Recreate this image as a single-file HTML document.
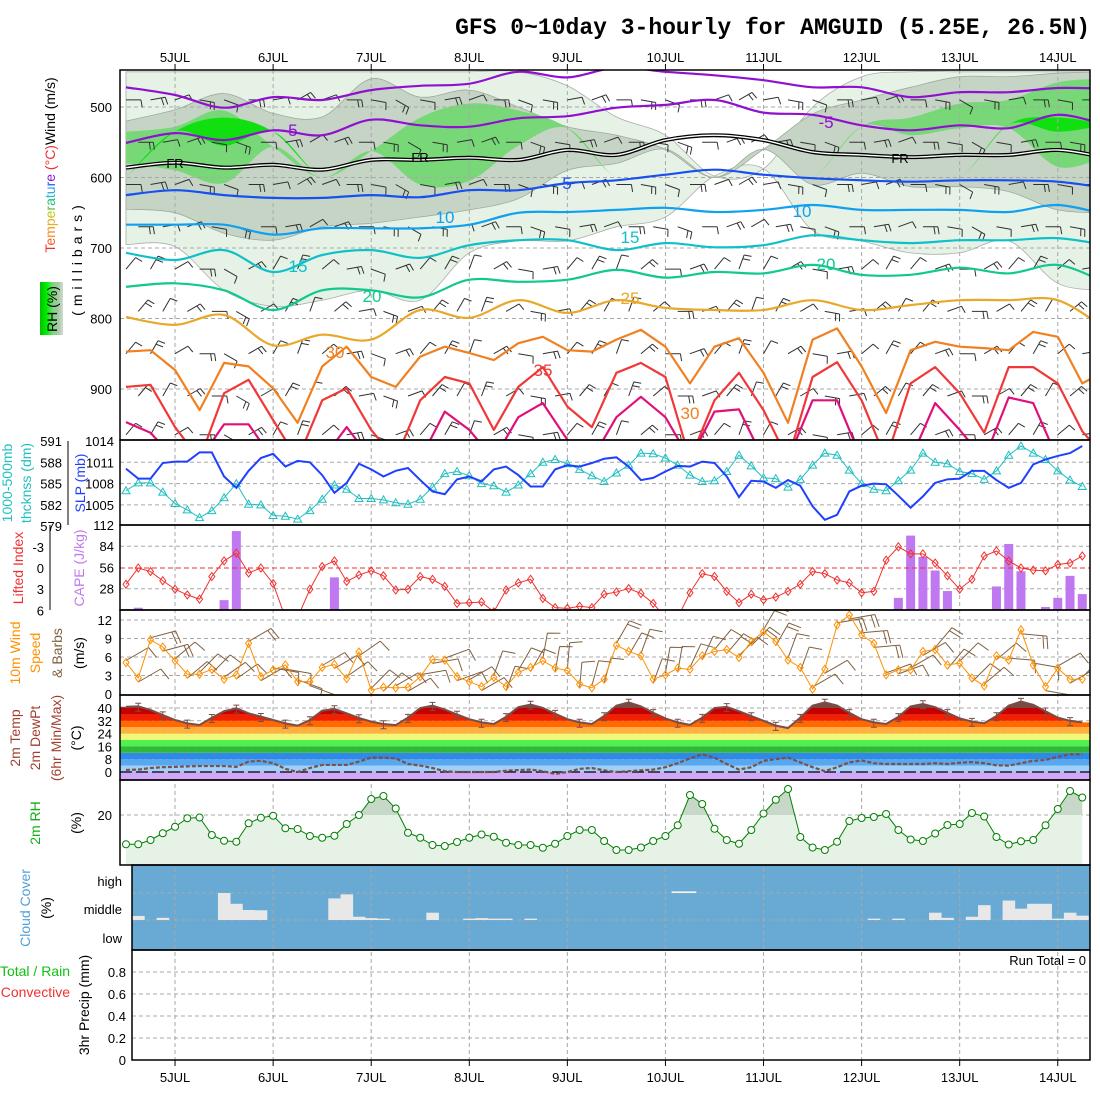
<!DOCTYPE html>
<html><head><meta charset="utf-8"><title>GFS meteogram AMGUID</title>
<style>
html,body{margin:0;padding:0;background:#fff;}
svg{display:block;font-family:"Liberation Sans",sans-serif;}
.tk{font-size:13px;fill:#000;}
.dl{font-size:13px;fill:#000;text-anchor:middle;}
</style></head>
<body>
<svg id="chart" width="1100" height="1100" viewBox="0 0 1100 1100" xmlns="http://www.w3.org/2000/svg">
<defs>
<clipPath id="cTop"><rect x="120" y="70" width="970" height="370"/></clipPath>
<clipPath id="cSlp"><rect x="120" y="440" width="970" height="85"/></clipPath>
<clipPath id="cCape"><rect x="120" y="525" width="970" height="85"/></clipPath>
<clipPath id="cWind"><rect x="120" y="610" width="970" height="85"/></clipPath>
<clipPath id="cTemp"><rect x="120" y="695" width="970" height="85"/></clipPath>
<clipPath id="cRh"><rect x="120" y="780" width="970" height="85"/></clipPath>
<clipPath id="cRhHi"><rect x="120" y="780" width="970" height="35"/></clipPath>
<clipPath id="cCloud"><rect x="132" y="865" width="958" height="85"/></clipPath>
<clipPath id="cTempArea"><polygon id="tempAreaPoly" points="0,0"/></clipPath>
<linearGradient id="rhGrad" x1="0" x2="1" y1="0" y2="0">
<stop offset="0" stop-color="#00c000"/><stop offset="0.3" stop-color="#00f000"/><stop offset="0.55" stop-color="#78d878"/><stop offset="0.8" stop-color="#a8c8a8"/><stop offset="1" stop-color="#d0dcd0"/>
</linearGradient>
</defs>

<text x="1090" y="34" text-anchor="end" style="font-family:'Liberation Mono',monospace;font-weight:bold;font-size:23px;">GFS 0~10day 3-hourly for AMGUID (5.25E, 26.5N)</text>

<g id="bg"></g>
<g id="topLayer" clip-path="url(#cTop)"></g>
<g id="grid"></g>
<g id="topLines" clip-path="url(#cTop)"></g>
<g id="marks"></g>
<g id="frames"></g>
<g id="labels"></g>

<g font-size="14">
<text transform="translate(55,165) rotate(-90)" text-anchor="middle"><tspan fill="#f03030">T</tspan><tspan fill="#f06020">e</tspan><tspan fill="#f09020">m</tspan><tspan fill="#e0b020">p</tspan><tspan fill="#c0c020">e</tspan><tspan fill="#60c040">r</tspan><tspan fill="#20c080">a</tspan><tspan fill="#20c0c0">t</tspan><tspan fill="#20a0f0">u</tspan><tspan fill="#2060f0">r</tspan><tspan fill="#8020d0">e</tspan> <tspan fill="#f03030">(°C)</tspan><tspan fill="#000">Wind (m/s)</tspan></text>
<text transform="translate(82,258) rotate(-90)" text-anchor="middle" letter-spacing="5">(millibars)</text>
<rect x="40" y="282" width="23" height="53" fill="url(#rhGrad)"/>
<text transform="translate(57,309) rotate(-90)" text-anchor="middle">RH (%)</text>
</g>
<g font-size="14">
<text transform="translate(12,483) rotate(-90)" text-anchor="middle" fill="#20c0c0">1000-500mb</text>
<text transform="translate(31,483) rotate(-90)" text-anchor="middle" fill="#20c0c0">thcknss (dm)</text>
<text transform="translate(85,483) rotate(-90)" text-anchor="middle" fill="#2040ff">SLP (mb)</text>
<text transform="translate(23,568) rotate(-90)" text-anchor="middle" fill="#f03030">Lifted Index</text>
<text transform="translate(84,568) rotate(-90)" text-anchor="middle" fill="#c078f0">CAPE (J/kg)</text>
<text transform="translate(20,653) rotate(-90)" text-anchor="middle" fill="#ff9000">10m Wind</text>
<text transform="translate(40,653) rotate(-90)" text-anchor="middle"><tspan fill="#ff9000">Speed</tspan></text>
<text transform="translate(62,653) rotate(-90)" text-anchor="middle" fill="#806040">&amp; Barbs</text>
<text transform="translate(84,653) rotate(-90)" text-anchor="middle">(m/s)</text>
<text transform="translate(20,738) rotate(-90)" text-anchor="middle" fill="#a04030">2m Temp</text>
<text transform="translate(40,738) rotate(-90)" text-anchor="middle" fill="#a04030">2m DewPt</text>
<text transform="translate(61,738) rotate(-90)" text-anchor="middle" fill="#a04030">(6hr Min/Max)</text>
<text transform="translate(81,738) rotate(-90)" text-anchor="middle">(°C)</text>
<text transform="translate(40,823) rotate(-90)" text-anchor="middle" fill="#10b010">2m RH</text>
<text transform="translate(81,823) rotate(-90)" text-anchor="middle">(%)</text>
<text transform="translate(30,908) rotate(-90)" text-anchor="middle" fill="#50a0d8">Cloud Cover</text>
<text transform="translate(51,908) rotate(-90)" text-anchor="middle">(%)</text>
<text x="70" y="976" text-anchor="end" fill="#10c010">Total / Rain</text>
<text x="70" y="997" text-anchor="end" fill="#f03030">Convective</text>
<text transform="translate(89,1005) rotate(-90)" text-anchor="middle">3hr Precip (mm)</text>
<text x="1086" y="965" text-anchor="end" font-size="13">Run Total = 0</text>
</g>
</svg>

<script>
// ---------- DATA ----------
const dayLabels = ["5JUL","6JUL","7JUL","8JUL","9JUL","10JUL","11JUL","12JUL","13JUL","14JUL"];
const slp = [1010.1,1008.7,1008.7,1010.9,1011.1,1011.1,1012.4,1012.4,1009.0,1007.4,1009.8,1011.6,1012.2,1010.4,1011.2,1011.0,1009.2,1006.7,1008.1,1010.8,1010.0,1009.0,1009.8,1010.2,1008.5,1006.9,1006.5,1008.6,1009.0,1008.3,1010.0,1010.4,1009.2,1007.6,1007.6,1010.0,1010.6,1010.4,1010.9,1011.5,1011.7,1010.4,1008.5,1008.8,1009.7,1010.5,1010.4,1011.1,1010.9,1009.0,1006.1,1008.4,1008.3,1007.4,1008.5,1007.7,1004.8,1002.9,1003.6,1006.9,1007.7,1008.0,1007.9,1006.3,1004.6,1006.2,1008.1,1008.6,1008.7,1009.8,1009.8,1008.5,1007.4,1008.1,1010.7,1011.4,1011.9,1012.3,1013.3];
const thickness = [584.0,585.1,585.1,583.8,582.2,581.3,580.2,581.2,583.0,585.0,582.1,582.0,580.5,580.4,580.0,581.2,582.8,584.8,584.2,582.9,582.9,582.7,582.3,582.1,582.8,584.5,586.4,586.7,586.1,585.0,584.7,583.8,584.8,586.4,588.0,588.4,587.8,587.0,586.1,585.3,586.5,587.6,589.3,589.2,588.6,587.6,586.2,585.3,585.4,586.7,589.0,587.5,585.8,585.7,584.5,585.6,587.6,589.3,589.0,586.9,585.0,584.2,584.0,585.4,586.9,589.3,588.0,587.8,586.7,586.4,585.6,586.8,589.0,590.3,589.3,588.4,586.8,585.5,584.6];
const liftedIndex = [2.3,0,0.5,1.8,3,3.8,4.4,1.2,-1,-2.1,0.7,0,2.2,7,7,3,-0.2,-1,1.9,1,0.4,1.1,3.1,3.0,1.2,1.6,2.6,5,4.9,4.8,6.2,3.1,2.1,1.6,4.3,5.6,5.7,5.4,5.6,3.7,3.4,2.9,3.6,5,7,7,3.5,0.8,1.2,3.3,4.9,3.7,4.5,4.1,3.3,2.3,0.5,0.8,1.7,2.1,3.5,3.3,-1.1,-3,-2,-2,-0.7,1.1,3,1.6,-1.7,-2.4,-1,0,0.3,0.4,-0.5,-0.7,-1.7];
const cape = [1,3,0,0,0,0,0,0,13,104,1,0,0,0,0,0,0,43,0,0,0,0,0,0,0,0,0,0,0,0,0,0,0,0,0,0,0,0,0,0,0,0,0,0,0,0,0,0,0,0,0,0,0,0,0,0,0,0,0,0,0,0,0,16,98,70,52,25,0,0,0,31,87,51,0,4,16,45,21];
const windSpeed = [5.1,2.6,8.8,7.6,5.4,3.2,3.2,4,2.4,3.1,8.2,2.8,3.9,4.7,2,2,4.3,4.8,2.5,6.8,0.6,1.1,1,1.1,2.8,5.6,5.5,2.8,2,1.2,2.7,1.2,3.5,4.3,5.4,4.2,3.8,1.6,1,2.4,7.9,6.9,6.2,2.4,3.1,4.2,4,6.2,6.9,7.2,5.9,8.5,10.1,8.5,5.5,4.3,0.8,4,11.2,12.8,9.6,8.2,3.1,3.9,3.9,6.9,7.2,4.7,5,2.6,1.3,6.2,5.5,10.4,4.7,1.2,4.2,2.4,2.4];
const temp2m = [40.8,41,38.8,35.6,32.5,30.4,29.4,33.9,38,39.8,36.7,34.6,32.5,30.4,29,32.5,38.3,39.4,36.7,33.8,31.5,30,29.3,34,40,41.5,39,36,33,31,30,34.5,40.5,42.2,40,36.5,33,31,30,35,41.5,43.5,41,37,33.5,31,29.5,34,40,40.7,38,35,32,29,27.5,34,41.5,43.5,41.5,37,33,31,30,34.5,41,42.5,40.5,37,33.5,31.5,30.5,35,41.5,44,42,38,34,32,31];
const dewPoint = [1.3,1.5,2.5,3,3.2,3.5,3.7,3.7,3.7,3.2,6.5,7,5.5,2,0,2.5,4.4,4.4,4.4,6.5,9,9,8.5,5,4,2.5,0.5,0,0,0,0,0.8,1.2,1.5,0.5,-1.2,0,2,2.5,1,0,0.5,1,1.5,3,5.5,8.5,11,9,5,1.5,3,7,8,9,6,3,0.5,3,6,7.2,5.5,5,5,5,5,5.5,5,5.8,6.2,5.5,4.2,4,5.5,7,7.5,9.5,11,11];
const rh2m = [8.3,8.3,10,12.7,15.3,18.7,19,12,9.7,9.3,16.7,18.9,19.7,14.7,14.4,11.6,10.9,11.7,16.4,20,26.4,27.6,22.6,12.9,10.9,8,7.6,9.2,10.9,12.2,11.3,8.9,8,8,6.9,8.5,11.6,14,14,9.6,6,6,7,9.6,11.6,15.9,28,24.4,14.5,10,8.5,14,20.6,26.1,30.4,11.2,7,6,9.3,17.6,18.8,19.2,20.4,14,10.2,9.6,12.6,16,16.4,20.8,19.4,11.2,8.2,9.5,10,15.9,22.4,29.6,27];
const cloudMid = [0,15,0,8,0,0,0,0,100,60,37,36,0,0,0,0,0,80,95,12,7,5,0,0,0,27,0,0,5,7,5,5,0,5,0,0,0,0,0,0,0,0,0,0,0,0,0,0,0,0,0,0,0,0,0,0,0,0,0,0,0,5,0,5,0,0,27,8,0,12,55,0,72,42,60,60,5,27,16];
const cloudHigh = [0,0,0,0,0,0,0,0,0,0,0,0,0,0,0,0,0,0,0,0,0,0,0,0,0,0,0,0,0,0,0,0,0,0,0,0,0,0,0,0,0,0,0,0,0,6,6,0,0,0,0,0,0,0,0,0,0,0,0,0,0,0,0,0,0,0,0,0,0,0,0,0,0,0,0,0,0,0,0];
const precip3h = [];
const sfcWindDir = [60,75,50,45,55,60,100,110,60,55,45,60,80,70,60,20,30,10,5,15,30,20,10,25,40,45,30,20,60,80,85,70,60,40,45,50,95,100,60,45,55];
const isoM10 = [472,483,501,486,490,476,470,467,450,458,444,450,455,462,472,472,486,479,479,473,474];
const isoM5 = [551,537,547,533,540,518,526,528,516,513,501,497,490,508,511,526,533,526,530,511,526];
const iso0 = [586,579,586,582,589,575,575,572,575,561,568,547,540,547,564,568,571,568,568,561,572];
const iso5 = [625,618,625,629,629,625,628,618,618,608,604,596,589,596,601,604,606,604,604,606,615];
const iso10 = [667,667,667,681,672,672,672,667,650,649,646,643,649,646,639,646,646,646,649,639,653];
const iso15 = [707,717,703,734,710,703,714,696,689,689,703,693,699,696,682,689,693,689,689,686,696];
const iso20 = [755,750,760,788,760,760,770,745,748,745,731,742,734,736,724,738,738,728,736,724,750];
const iso25 = [798,809,795,838,823,830,788,799,774,792,774,785,788,788,774,788,781,774,774,774,816];
const iso30 = [847,845,873,930,863,868,899,948,868,840,883,897,854,840,849,859,835,826,845,847,830,816,840,892,840,828,877,948,830,814,868,934,845,833,840,842,845,819,826,892,873];
const iso35 = [897,894,954,1000,906,887,944,1000,916,899,958,1000,916,883,892,958,897,869,925,954,877,863,883,1000,916,877,930,1000,883,862,916,1000,892,869,906,962,869,869,892,960,1000];
const iso40 = [947,962,1000,1000,950,950,1000,1000,1000,954,1000,1000,1000,932,958,1000,940,920,972,1000,940,911,940,1000,932,929,1000,1000,916,916,1000,1000,1000,920,958,1000,912,920,1000,1000,1000];
const rhLightTop = [450,450,450,450,450,450,450,450,450,470,514,540,null,null,500,457,450,450,450,450,450];
const rhLightBot = [695,698,760,783,774,760,774,707,690,690,670,656,null,null,675,690,707,707,690,750,760];
const rhGreyTop = [520,504,481,509,514,460,486,476,500,528,540,null,null,null,510,490,472,457,457,452,450];
const rhGreyBot = [645,650,679,689,670,665,656,646,630,590,580,null,null,null,610,594,613,613,620,646,650];
const rhGreenTop = [535,528,505,null,null,null,515,495,505,null,null,null,null,null,null,null,515,495,490,465,460];
const rhGreenBot = [580,590,608,null,null,null,610,605,555,null,null,null,null,null,null,null,540,530,530,585,570];
const rhBrightTop = [null,null,515,null,null,null,null,null,null,null,null,null,null,null,null,null,null,null,null,515,null];
const rhBrightBot = [null,null,555,null,null,null,null,null,null,null,null,null,null,null,null,null,null,null,null,535,null];
const barbDirUpper = [90,80,70,100,110,90,80,60,70,90,100,120,100,80,70,90,110,100,80,70,90,100,110,90,70,60,80,100,110,90,80,70,90,100,120,100,80,90,100,90,80];
const barbDirLower = [40,30,60,90,120,60,30,20,50,80,110,70,40,30,20,60,100,80,40,30,20,50,90,70,40,20,30,60,100,80,50,30,40,70,90,60,40,30,50,80,60];
const cloudLevelLabels = ["high","middle","low"];

// ---------- HELPERS ----------
const NS = "http://www.w3.org/2000/svg";
const X0 = 126, DX = 12.26;
function xOf(i){ return X0 + i*DX; }
function dayX(d){ return X0 + (4 + 8*d)*DX; }
function yPres(p){ return 107 + (p-500)*0.705; }
function ySlp(v){ return 441 + (1014-v)*7.1; }
function yThk(v){ return 441 + (591-v)*7.1; }
function yCape(v){ return 610 - v*0.759; }
function yLI(v){ return 568 + v*7.08; }
function yWind(v){ return 694 - v*6.17; }
function yTemp(v){ return 772 - v*1.6; }
function yRh(v){ return 865 - v*2.5; }
function yPrecip(v){ return 1060 - v*110; }
function mk(tag, attrs, parent){
  const e = document.createElementNS(NS, tag);
  for (const k in attrs) e.setAttribute(k, attrs[k]);
  parent.appendChild(e);
  return e;
}
function smoothPath(pts){
  if (pts.length < 2) return "";
  let d = "M" + pts[0][0].toFixed(1) + "," + pts[0][1].toFixed(1);
  for (let i=0;i<pts.length-1;i++){
    const p0 = pts[Math.max(0,i-1)], p1 = pts[i], p2 = pts[i+1], p3 = pts[Math.min(pts.length-1,i+2)];
    const c1x = p1[0] + (p2[0]-p0[0])/6, c1y = p1[1] + (p2[1]-p0[1])/6;
    const c2x = p2[0] - (p3[0]-p1[0])/6, c2y = p2[1] - (p3[1]-p1[1])/6;
    d += " C" + c1x.toFixed(1)+","+c1y.toFixed(1)+" "+c2x.toFixed(1)+","+c2y.toFixed(1)+" "+p2[0].toFixed(1)+","+p2[1].toFixed(1);
  }
  return d;
}
function linePts(arr, step, yf){ return arr.map((v,i)=>[xOf(i*step), yf(v)]); }

const gBg = document.getElementById("bg");
const gTop = document.getElementById("topLayer");
const gGrid = document.getElementById("grid");
const gTopLines = document.getElementById("topLines");
const gMarks = document.getElementById("marks");
const gFrames = document.getElementById("frames");
const gLab = document.getElementById("labels");

const cloudBg = mk("rect",{x:132,y:865,width:958,height:85,fill:"#69aad4"},gBg);



function bandPolygon(topArr, botArr, fill, stroke, name){
  const n = topArr.length;
  const T = [], B = [];
  for (let k=0;k<n;k++){
    if (topArr[k] === null){
      let m = 600, cnt = 0, s = 0;
      [k-1,k+1].forEach(j=>{ if (j>=0 && j<n && topArr[j]!==null){ s += (topArr[j]+botArr[j])/2; cnt++; } });
      if (cnt) m = s/cnt;
      T.push([xOf(4*k), yPres(m)]); B.push([xOf(4*k), yPres(m)]);
    } else {
      T.push([xOf(4*k), yPres(topArr[k])]); B.push([xOf(4*k), yPres(botArr[k])]);
    }
  }
  const dTop = smoothPath(T);
  const dBot = smoothPath(B.slice().reverse());
  const p = mk("path",{d: dTop + " L" + dBot.slice(1) + " Z", fill: fill, stroke: stroke, "stroke-width": 0.8},gTop);
  
  
}
bandPolygon(rhLightTop, rhLightBot, "#e6f2e6", "#a8b0a8", "rh-band-light");
bandPolygon(rhGreyTop, rhGreyBot, "#c6d4c6", "#a0aaa0", "rh-band-grey");
bandPolygon(rhGreenTop, rhGreenBot, "#78d878", "none", "rh-band-green");
bandPolygon(rhBrightTop, rhBrightBot, "#10e010", "none", "rh-band-bright");

function hGrid(y, x1, name){
  const l = mk("line",{x1:x1,x2:1090,y1:y,y2:y,stroke:"#a8a8a8","stroke-width":1,"stroke-dasharray":"4,3"},gGrid);
  
  
}
for (let d=0; d<dayLabels.length; d++){
  const x = dayX(d);
  const l = mk("line",{x1:x,x2:x,y1:70,y2:1060,stroke:"#a8a8a8","stroke-width":1,"stroke-dasharray":"4,3"},gGrid);
  
  
  const t1 = mk("text",{x:x,y:62,class:"dl"},gLab); t1.textContent = dayLabels[d];
  
  
  const t2 = mk("text",{x:x,y:1082,class:"dl"},gLab); t2.textContent = dayLabels[d];
  
  
  const tk1 = mk("line",{x1:x,x2:x,y1:64,y2:70,stroke:"#000"},gLab);
  
  
  const tk2 = mk("line",{x1:x,x2:x,y1:1060,y2:1066,stroke:"#000"},gLab);
  
  
}
function yTick(y, text, xr, name){
  const t = mk("text",{x:xr,y:y+5,class:"tk","text-anchor":"end"},gLab); t.textContent = text;
  
  
}
const presTicks = [500,600,700,800,900];
presTicks.forEach(p=>{ hGrid(yPres(p),120,'pressure-gridline'); yTick(yPres(p), String(p), 112, 'pressure-tick-label'); });
const slpTicks = [1014,1011,1008,1005];
slpTicks.forEach(v=>{ if (v!==1014) hGrid(ySlp(v),120,'slp-gridline'); yTick(ySlp(v), String(v), 114, 'slp-tick-label'); });
const thkTicks = [591,588,585,582,579];
thkTicks.forEach(v=>{ yTick(yThk(v), String(v), 62, 'thickness-tick-label'); });
const capeTicks = [112,84,56,28];
capeTicks.forEach(v=>{ if (v!==112 && v!==56) hGrid(yCape(v),120,'cape-gridline'); yTick(yCape(v), String(v), 114, 'cape-tick-label'); });
const liTicks = [-3,0,3,6];
liTicks.forEach(v=>{ yTick(yLI(v), String(v), 44, 'li-tick-label'); });
const windTicks = [12,9,6,3,0];
windTicks.forEach(v=>{ if (v!==0) hGrid(yWind(v),120,'wind-gridline'); yTick(yWind(v), String(v), 112, 'wind-tick-label'); });
const tempTicks = [40,32,24,16,8,0];
const rhTicks = [20];
rhTicks.forEach(v=>{ hGrid(yRh(v),120,'rh-gridline'); yTick(yRh(v), String(v), 112, 'rh-tick-label'); });
hGrid(893,132,'cloud-gridline'); hGrid(920,132,'cloud-gridline');
const precipTicks = [0.8,0.6,0.4,0.2,0];
precipTicks.forEach(v=>{ if (v!==0) hGrid(yPrecip(v),132,'precip-gridline'); yTick(yPrecip(v), String(v), 126, 'precip-tick-label'); });
const cloudLabY = [882,910,939];
cloudLevelLabels.forEach((s,i)=>{ yTick(cloudLabY[i]-1, s, 122, 'cloud-level-label'); });

[[68,441,525],[50,525,610]].forEach(a=>{
  const l = mk("line",{x1:a[0],x2:a[0],y1:a[1],y2:a[2],stroke:"#000"},gLab);
  
  
});

function isoLine(arr, step, color, w, name, smooth){
  const pts = linePts(arr, step, yPres);
  const d = smooth ? smoothPath(pts) : "M" + pts.map(p=>p[0].toFixed(1)+","+p[1].toFixed(1)).join(" L");
  const p = mk("path",{d:d,fill:"none",stroke:color,"stroke-width":w,"stroke-linejoin":"round"},gTopLines);
  
  
  return d;
}

function barb(parent, x, y, dir, len, color, nticks, name){
  const r = dir*Math.PI/180;
  const ux = Math.sin(r), uy = -Math.cos(r);
  const ex = x + ux*len, ey = y + uy*len;
  let d = "M"+x.toFixed(1)+","+y.toFixed(1)+" L"+ex.toFixed(1)+","+ey.toFixed(1);
  const r2 = r + Math.PI*0.45;
  for (let t=0;t<nticks;t++){
    const sx = ex - ux*t*4, sy = ey - uy*t*4;
    d += " M"+sx.toFixed(1)+","+sy.toFixed(1)+" L"+(sx+Math.sin(r2)*len*0.5).toFixed(1)+","+(sy-Math.cos(r2)*len*0.5).toFixed(1);
  }
  const p = mk("path",{d:d,stroke:color,"stroke-width":1,fill:"none"},parent);
  
  
}
const barbLevels = [480,540,600,660,720,780,840,900,955];
barbLevels.forEach((p,li)=>{
  for (let j=0;j<41;j++){
    const xi = 2*j + (li%2);
    const x = xOf(xi);
    if (x < 124 || x > 1086) continue;
    const dir = p < 690 ? barbDirUpper[j] : barbDirLower[j];
    barb(gTopLines, x, yPres(p)+7, dir, 15, "#303030", 1 + (j+li)%2, "upper-air-wind-barb");
  }
});

isoLine(isoM10,4,"#9010d0",2.2,"isotherm-minus10",true);
isoLine(isoM5,4,"#9010d0",2.2,"isotherm-minus5",true);
const frD = isoLine(iso0,4,"#000",4,"isotherm-freezing",true);
const frIn = mk("path",{d:frD,fill:"none",stroke:"#fff","stroke-width":1.4},gTopLines);


isoLine(iso5,4,"#1850f0",2.2,"isotherm-5",true);
isoLine(iso10,4,"#10a0f0",2.2,"isotherm-10",true);
isoLine(iso15,4,"#10c0c8",2.2,"isotherm-15",true);
isoLine(iso20,4,"#10c890",2.2,"isotherm-20",true);
isoLine(iso25,4,"#e8a828",2.2,"isotherm-25",true);
isoLine(iso30,2,"#f08020",2.2,"isotherm-30",false);
isoLine(iso35,2,"#f03838",2.2,"isotherm-35",false);
isoLine(iso40,2,"#e0107a",2.2,"isotherm-40",false);

const isoLabels = [["-5",290,136,"#9010d0"],["-5",826,128,"#9010d0"],["FR",175,168,"#000"],["FR",420,162,"#000"],["FR",900,163,"#000"],["5",567,189,"#1850f0"],["10",445,223,"#10a0f0"],["10",802,217,"#10a0f0"],["15",630,243,"#10c0c8"],["15",298,272,"#10c0c8"],["20",372,302,"#10c890"],["20",826,270,"#10c890"],["25",630,304,"#e8a828"],["30",335,358,"#f08020"],["30",690,419,"#f08020"],["35",543,376,"#f03838"]];
isoLabels.forEach(a=>{
  const t = mk("text",{x:a[1],y:a[2],"text-anchor":"middle","font-size":a[0]==="FR"?13:17,fill:a[3]},gTopLines);
  t.textContent = a[0];
  
  
});

// SLP / thickness
const gSlp = mk("g",{"clip-path":"url(#cSlp)"},gMarks);


const thkPts = linePts(thickness,1,yThk);
const thkLine = mk("polyline",{points:thkPts.map(p=>p.join(",")).join(" "),fill:"none",stroke:"#20c0c0","stroke-width":1},gSlp);


thkPts.forEach(p=>{
  const m = mk("polygon",{points:`${p[0]},${p[1]-4} ${p[0]-4},${p[1]+3} ${p[0]+4},${p[1]+3}`,fill:"none",stroke:"#20c0c0","stroke-width":1},gSlp);
  
  
});
const slpLine = mk("polyline",{points:linePts(slp,1,ySlp).map(p=>p.join(",")).join(" "),fill:"none",stroke:"#2040ff","stroke-width":2},gSlp);



// CAPE / LI
const gCape = mk("g",{"clip-path":"url(#cCape)"},gMarks);


cape.forEach((v,i)=>{
  if (v<=0) return;
  const b = mk("rect",{x:xOf(i)-4.5,y:yCape(v),width:9,height:610-yCape(v),fill:"#c078f0"},gCape);
  
  
});
const liZero = mk("line",{x1:120,x2:1090,y1:yLI(0),y2:yLI(0),stroke:"#f03030","stroke-dasharray":"5,3"},gCape);


const liPts = linePts(liftedIndex,1,yLI);
const liLine = mk("polyline",{points:liPts.map(p=>p.join(",")).join(" "),fill:"none",stroke:"#f03030","stroke-width":1},gCape);


liPts.forEach(p=>{
  const m = mk("polygon",{points:`${p[0]},${p[1]-4} ${p[0]+3},${p[1]} ${p[0]},${p[1]+4} ${p[0]-3},${p[1]}`,fill:"none",stroke:"#f03030"},gCape);
  
  
});

// 10m wind
const gWind = mk("g",{"clip-path":"url(#cWind)"},gMarks);


windSpeed.forEach((v,i)=>{
  const dir = sfcWindDir[Math.floor(i/2)];
  barb(gWind, xOf(i), yWind(v)+ (i%2?4:-2), dir, 26, "#806040", v>7?2:1, "surface-wind-barb");
});
const wPts = linePts(windSpeed,1,yWind);
const wLine = mk("polyline",{points:wPts.map(p=>p.join(",")).join(" "),fill:"none",stroke:"#ff9000","stroke-width":1},gWind);


wPts.forEach(p=>{
  const m = mk("polygon",{points:`${p[0]},${p[1]-4} ${p[0]+3},${p[1]} ${p[0]},${p[1]+4} ${p[0]-3},${p[1]}`,fill:"none",stroke:"#ff9000"},gWind);
  
  
});

// 2m temp
const tPts = linePts(temp2m,1,yTemp);
const areaPts = [[120,800],[120,tPts[0][1]]].concat(tPts).concat([[1090,tPts[tPts.length-1][1]],[1090,800]]);
document.getElementById("tempAreaPoly").setAttribute("points", areaPts.map(p=>p.join(",")).join(" "));
const gTemp = mk("g",{"clip-path":"url(#cTemp)"},gMarks);


const gTempBands = mk("g",{"clip-path":"url(#cTempArea)"},gTemp);


const tempBandLo = [-20,0,4,8,12,16,20,24,28,32,36,40];
const tempBandColors = ["#d0a8f8","#a0d0f8","#58a8f0","#3088e8","#30b838","#50f050","#f0f878","#ffb040","#ff6a00","#f02000","#c40000","#7a4a40"];
tempBandLo.forEach((lo,i)=>{
  const hi = i<tempBandLo.length-1 ? tempBandLo[i+1] : 60;
  const r = mk("rect",{x:120,y:yTemp(hi),width:970,height:yTemp(lo)-yTemp(hi),fill:tempBandColors[i]},gTempBands);
  
  
});
const zeroL = mk("line",{x1:120,x2:1090,y1:yTemp(0),y2:yTemp(0),stroke:"#000","stroke-dasharray":"12,4","stroke-width":1.2},gTemp);


const tLine = mk("polyline",{points:tPts.map(p=>p.join(",")).join(" "),fill:"none",stroke:"#7a4e48","stroke-width":2},gTemp);


const dLine = mk("polyline",{points:linePts(dewPoint,1,yTemp).map(p=>p.join(",")).join(" "),fill:"none",stroke:"#7a5048","stroke-width":2.2,"stroke-dasharray":"4,2"},gTemp);


for (let i=1;i<temp2m.length;i+=2){
  const x = xOf(i), v = temp2m[i];
  const y1 = yTemp(v+2), y2 = yTemp(v-3);
  const e = mk("path",{d:`M${x},${y1} L${x},${y2} M${x-3},${y1} L${x+3},${y1} M${x-3},${y2} L${x+3},${y2}`,stroke:"#7a4e48","stroke-width":1,fill:"none"},gTemp);
  
  
}
tempTicks.forEach(v=>{ hGrid(yTemp(v),120,'temperature-gridline'); yTick(yTemp(v), String(v), 112, 'temperature-tick-label'); });

// 2m RH
const gRh = mk("g",{"clip-path":"url(#cRh)"},gMarks);


const rPts = linePts(rh2m,1,yRh);
const rhArea = "M"+rPts[0][0]+",865 L"+rPts.map(p=>p.join(",")).join(" L")+" L"+rPts[rPts.length-1][0]+",865 Z";
const ra = mk("path",{d:rhArea,fill:"#e6f2e6"},gRh);


const gRhHi = mk("g",{"clip-path":"url(#cRhHi)"},gRh);


const ra2 = mk("path",{d:rhArea,fill:"#c8d8c8"},gRhHi);


const rl = mk("polyline",{points:rPts.map(p=>p.join(",")).join(" "),fill:"none",stroke:"#008000","stroke-width":1},gRh);


rPts.forEach(p=>{
  const c = mk("circle",{cx:p[0],cy:p[1],r:3.5,fill:"#fff",stroke:"#008000"},gRh);
  
  
});

// Cloud
const gCl = mk("g",{"clip-path":"url(#cCloud)"},gMarks);


cloudMid.forEach((v,i)=>{
  if (v<=0) return;
  const h = v/100*27;
  const r = mk("rect",{x:xOf(i)-DX/2,y:920-h,width:DX+0.3,height:h,fill:"#e8e8e8"},gCl);
  
  
});
cloudHigh.forEach((v,i)=>{
  if (v<=0) return;
  const h = v/100*27;
  const r = mk("rect",{x:xOf(i)-DX/2,y:893-h,width:DX+0.3,height:h,fill:"#f4f4f4"},gCl);
  
  
});

// Frames
const panels = [[120,70,970,370,"cross-section-panel"],[120,440,970,85,"slp-panel"],[120,525,970,85,"cape-panel"],[120,610,970,85,"wind-panel"],[120,695,970,85,"temperature-panel"],[120,780,970,85,"rh-panel"],[132,865,958,85,"cloud-panel"],[132,950,958,110,"precip-panel"]];
panels.forEach(p=>{
  const r = mk("rect",{x:p[0],y:p[1],width:p[2],height:p[3],fill:"none",stroke:"#000","stroke-width":1.5},gFrames);
  
  
});
</script>
</body></html>
